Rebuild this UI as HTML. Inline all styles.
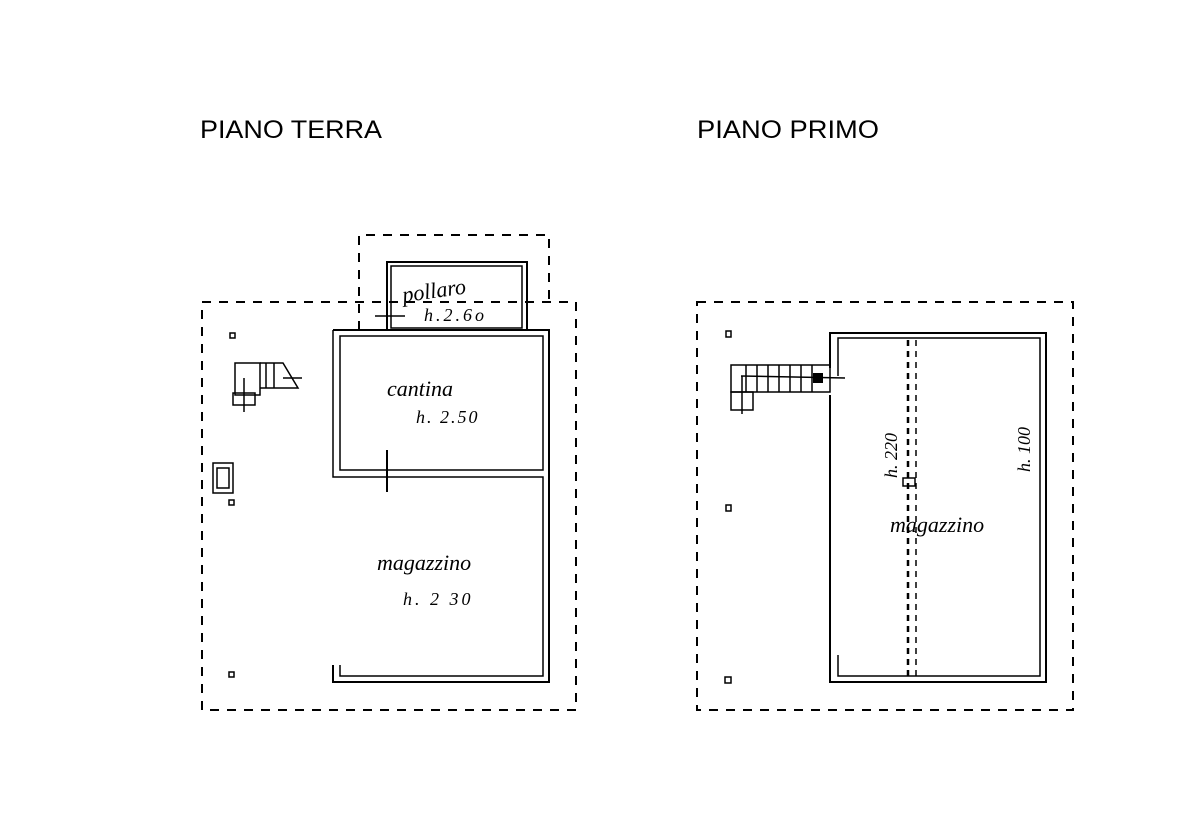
<!DOCTYPE html>
<html><head><meta charset="utf-8"><style>
html,body{margin:0;padding:0;background:#fff;}
svg{display:block}
</style></head><body>
<svg width="1194" height="832" viewBox="0 0 1194 832" xmlns="http://www.w3.org/2000/svg">
<rect width="1194" height="832" fill="#fff"/>
<g font-family="Liberation Sans, sans-serif" font-size="25" fill="#000">
<text x="200" y="138" textLength="182" lengthAdjust="spacingAndGlyphs">PIANO TERRA</text>
<text x="697" y="138" textLength="182" lengthAdjust="spacingAndGlyphs">PIANO PRIMO</text>
</g>
<g fill="none" stroke="#000" stroke-width="2">
<!-- LEFT -->
<g stroke-dasharray="9,8">
<rect x="202" y="302" width="374" height="408"/>
<polyline points="359,330 359,235 549,235 549,302"/>
</g>
<rect x="387" y="262" width="140" height="68"/>
<rect x="391" y="266" width="131" height="62" stroke-width="1.5"/>
<polyline points="333,330 549,330 549,682 333,682 333,665"/>
<rect x="340" y="336" width="203" height="134" stroke-width="1.5"/>
<polyline points="333,330 333,477 543,477 543,676 340,676 340,665" stroke-width="1.5"/>
<line x1="387" y1="450" x2="387" y2="492"/>
<line x1="375" y1="316" x2="405" y2="316" stroke-width="1.5"/>
<!-- stairs left -->
<g stroke-width="1.5">
<rect x="235" y="363" width="25" height="32"/>
<rect x="233" y="393" width="22" height="12"/>
<line x1="244" y1="378" x2="244" y2="412"/>
<polyline points="260,363 283,363 298,388 260,388"/>
<line x1="266" y1="363" x2="266" y2="388"/><line x1="274" y1="363" x2="274" y2="388"/>
<line x1="283" y1="378" x2="302" y2="378"/>
</g>
<rect x="213" y="463" width="20" height="30" stroke-width="1.5"/>
<rect x="217" y="468" width="12" height="20" stroke-width="1.5"/>
<rect x="230" y="333" width="5" height="5" stroke-width="1.5"/>
<rect x="229" y="500" width="5" height="5" stroke-width="1.5"/>
<rect x="229" y="672" width="5" height="5" stroke-width="1.5"/>
<!-- RIGHT -->
<rect x="697" y="302" width="376" height="408" stroke-dasharray="9,8"/>
<polyline points="830,395 830,682 1046,682 1046,333 830,333 830,368"/>
<polyline points="838,376 838,338 1040,338 1040,676 838,676 838,655" stroke-width="1.5"/>
<line x1="908" y1="340" x2="908" y2="676" stroke-dasharray="6,5" stroke-width="2.5"/>
<line x1="916" y1="340" x2="916" y2="676" stroke-dasharray="6,5" stroke-width="1.5"/>
<rect x="903" y="478" width="12" height="8" stroke-width="1.5"/>
<g stroke-width="1.5">
<rect x="731" y="365" width="99" height="27"/>
<line x1="741" y1="376" x2="845" y2="378"/>
<rect x="731" y="392" width="22" height="18"/>
<line x1="742" y1="376" x2="742" y2="414"/>
<line x1="746" y1="365" x2="746" y2="392"/><line x1="757" y1="365" x2="757" y2="392"/>
<line x1="768" y1="365" x2="768" y2="392"/><line x1="779" y1="365" x2="779" y2="392"/>
<line x1="790" y1="365" x2="790" y2="392"/><line x1="801" y1="365" x2="801" y2="392"/>
<line x1="812" y1="365" x2="812" y2="392"/>
</g>
<rect x="814" y="374" width="8" height="8" fill="#000"/>
<rect x="726" y="331" width="5" height="6" stroke-width="1.5"/>
<rect x="726" y="505" width="5" height="6" stroke-width="1.5"/>
<rect x="725" y="677" width="6" height="6" stroke-width="1.5"/>
</g>
<g font-family="Liberation Serif, serif" font-style="italic" fill="#000">
<text x="402" y="297" font-size="22" transform="rotate(-8 440 290)">pollaro</text>
<text x="424" y="321" font-size="18" letter-spacing="3">h.2.6o</text>
<text x="387" y="396" font-size="22">cantina</text>
<text x="416" y="423" font-size="18" letter-spacing="2">h. 2.50</text>
<text x="377" y="570" font-size="22">magazzino</text>
<text x="403" y="605" font-size="18" letter-spacing="3">h. 2 30</text>
<text x="890" y="532" font-size="22">magazzino</text>
<text font-size="18" transform="translate(897,478) rotate(-90)">h. 220</text>
<text font-size="18" transform="translate(1030,472) rotate(-90)">h. 100</text>
</g>
</svg>
</body></html>
